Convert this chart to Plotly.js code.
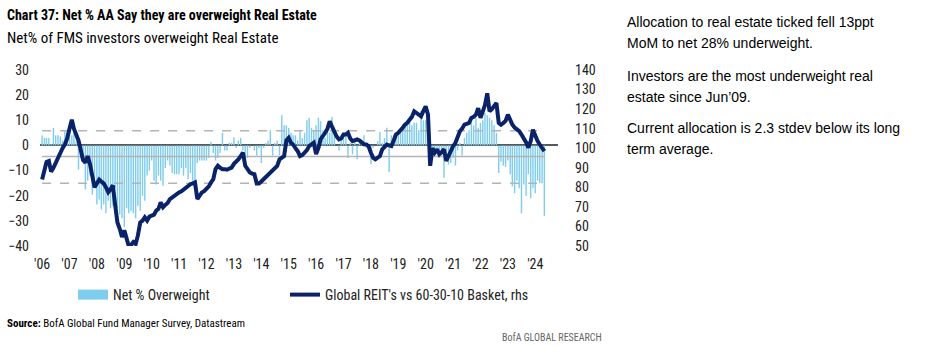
<!DOCTYPE html>
<html><head><meta charset="utf-8">
<script src="https://cdn.plot.ly/plotly-3.0.1.min.js"></script>
<style>html,body{margin:0;padding:0;background:#fff}#chart{width:933px;height:346px}</style>
</head><body><div id="chart"></div>
<script>
// ---- data (monthly, Jan 2006 .. May 2024) ----
const firstYear = 2006;
const netOverweight = [
  4, 3, 3, 3, 0.5, 7, 4, 4, 3.6, 2, 5.7, 5,                      // 2006
  7, 4, 5, 1.7, -9.6, -5, -3.6, -17.5, -14, -12, -19.5, -17,     // 2007
  -23.5, -21.5, -25.5, -23.5, -27, -22, -25, -24, -17, -25, -27.5, -29, // 2008
  -32.5, -25, -27, -26, -27, -29, -24, -26, -20, -22, -12, -10,  // 2009
  -6, -14, -15.5, -12, -14, -16, -9, -6, -8, -11, -11.5, -11.5,  // 2010
  -11.5, -9, -12, -9, -13.5, -11, -14, -14, -7, -6, -6, -6,      // 2011
  -6, -5, 1.5, -3, -6, -5, -3, 5, -2, -2, 1, 1,                  // 2012
  3.3, -1, 2, 3, -2, -5, -5, -1, 0, -2, -4, -1,                  // 2013
  -7, -1, 1, 2, 6, -4, 1, 2, -4, 12, 8, 8,                       // 2014
  7, 5, 4, 4, 2, 6, 3, 5, 10, 11, 7, 6,                          // 2015
  8, 11, 9.7, 6, 3, 8, 5, 11.4, 6, 0, -2, 3,                     // 2016
  5, 4, -5, 1, -3.5, 2, -5.5, 1, 2, 4, -1, -2,                   // 2017
  -7.5, -1, 0, 1.7, 5.3, 1, 3, 7, -10.6, 4, 4, 3,                // 2018
  4, 5, 7, 9, 8, 11.7, 8, 9, 9, 6, 13.7, 10,                     // 2019
  10, 9, -5, -5, -1, -2, -5, -4, -13, -5, -7.6, -7,              // 2020
  -5, -8, -2, 1, -4, 3, 5, 6, 9.5, 8, 11, 7,                     // 2021
  9, 10, 13, 12, 11, 10, 8, 5, -11, -6.5, -8, -8.5,              // 2022
  -6, -11.5, -16.3, -19, -14, -17, -27, -15.5, -20, -11.5, -21, -17, // 2023
  -19, -14, -15, -15, -28                                        // 2024
];
const reitVsBasket = [
  84, 89, 93, 93.5, 88, 90, 92.6, 95, 98.5, 100, 102, 105,       // 2006
  110, 114.6, 110, 107, 104, 99, 94, 92.6, 96, 92, 87, 80,       // 2007
  82, 84, 83, 82, 80, 77.5, 79, 81, 71, 62, 58.8, 54.6,          // 2008
  58, 53, 50, 50.5, 52, 51, 55.4, 62, 63, 64.7, 63, 65,          // 2009
  65.6, 66, 68, 69, 72.3, 69.8, 71, 72, 74, 75, 75.7, 76.5,      // 2010
  77.4, 78, 79, 80, 80.5, 81.6, 82, 82.5, 74, 76, 77.4, 78,      // 2011
  79.1, 80.5, 82.5, 84.2, 89.3, 91, 90, 89.3, 89.3, 89, 89.6, 90.1, // 2012
  92, 93, 94.3, 96, 97.7, 91, 89, 87.6, 87, 86.7, 82, 82,        // 2013
  83, 84.2, 85.5, 86.5, 87.6, 89.3, 90, 91, 94.3, 95, 96, 104,   // 2014
  105.3, 102.8, 101.9, 100, 98.5, 96, 96.5, 97.7, 99, 101.1, 102, 102.8, // 2015
  97, 100, 104.5, 106, 107.9, 110, 113.8, 111, 107.9, 106, 104.5, 105,   // 2016
  107, 107, 107.9, 105, 103.6, 104, 104.5, 104, 102.8, 102, 101.9, 101,  // 2017
  97.7, 95, 94.3, 95, 96, 99.4, 100.5, 101.9, 101.5, 101.1, 104, 107,    // 2018
  107.9, 109, 110.5, 112.1, 113, 114.6, 116, 118.9, 118, 117.2, 116.3, 119, // 2019
  121.4, 117.2, 91, 100, 97.7, 99.4, 96.9, 98, 99.4, 93.5, 96, 99,       // 2020
  101, 102.8, 106, 108.7, 110, 112.1, 112.5, 112.9, 115.5, 116, 117.2, 120.5, // 2021
  115.5, 118.9, 122, 128.1, 118.9, 120, 121.4, 123.1, 112.9, 112, 112.9, 114, // 2022
  117.2, 114, 112.1, 110.5, 109.5, 108.7, 107, 105.3, 103, 100.3, 103.6, 109.5, // 2023
  106, 103.6, 101.9, 100, 98.5                                   // 2024
];
const longTermAvg = -4.4;
const stdevBands = [5.8, -15.0];
const yearTickVals = [];
const yearTickText = ["'06","'07","'08","'09","'10","'11","'12","'13","'14","'15","'16","'17","'18","'19","'20","'21","'22","'23","'24"];
for (let i = 0; i < yearTickText.length; i++) yearTickVals.push((firstYear + i) + '-01-01');

const seriesNames = ['Net % Overweight', "Global REIT's vs 60-30-10 Basket, rhs"];
const rightText = [
  'Allocation to real estate ticked fell 13ppt',
  'MoM to net 28% underweight.',
  'Investors are the most underweight real',
  "estate since Jun\u201909.",
  'Current allocation is 2.3 stdev below its long',
  'term average.'
];

// ---- build dates ----
function monthDates(n) {
  const out = [];
  for (let i = 0; i < n; i++) {
    const y = firstYear + Math.floor(i / 12);
    const m = (i % 12) + 1;
    out.push(y + '-' + String(m).padStart(2, '0') + '-01');
  }
  return out;
}
const barDates = monthDates(netOverweight.length);
const lineDates = monthDates(reitVsBasket.length);
const firstDate = barDates[0], lastDate = barDates[barDates.length - 1];

const NARROW = '"Liberation Sans Narrow", "Arial Narrow", "Roboto Condensed", sans-serif';
const REG = '"Liberation Sans", Arial, sans-serif';
const BAR_COLOR = '#7fcdee', LINE_COLOR = '#0a2368';

// pixel helpers for plot-area-relative paper coordinates
const PL = 40, PR = 558, PT = 70, PB = 246;
const px = x => (x - PL) / (PR - PL);
const py = y => (PB - y) / (PB - PT);

const traces = [
  // legend entry for bars (wide swatch like the original)
  {type: 'scatter', mode: 'lines', x: [null], y: [null], name: seriesNames[0],
   line: {color: BAR_COLOR, width: 10}, hoverinfo: 'skip', legend: 'legend'},
  {type: 'bar', x: barDates, y: netOverweight, name: seriesNames[0], showlegend: false,
   marker: {color: BAR_COLOR, line: {width: 0}}, width: 19 * 86400000, yaxis: 'y'},
  {type: 'scatter', mode: 'lines', x: [firstDate, lastDate], y: [longTermAvg, longTermAvg],
   line: {color: '#b3b3b3', width: 1.5}, showlegend: false, hoverinfo: 'skip'},
  {type: 'scatter', mode: 'lines', x: [firstDate, lastDate], y: [stdevBands[0], stdevBands[0]],
   line: {color: '#b3b3b3', width: 1.5, dash: 'dash'}, showlegend: false, hoverinfo: 'skip'},
  {type: 'scatter', mode: 'lines', x: [firstDate, lastDate], y: [stdevBands[1], stdevBands[1]],
   line: {color: '#b3b3b3', width: 1.5, dash: 'dash'}, showlegend: false, hoverinfo: 'skip'},
  {type: 'scatter', mode: 'lines', x: lineDates, y: reitVsBasket, name: seriesNames[1],
   line: {color: LINE_COLOR, width: 4}, yaxis: 'y2', legend: 'legend2'}
];

const annotations = [
  {text: '<b>Chart 37: Net % AA Say they are overweight Real Estate</b>', x: px(5), y: py(15),
   font: {family: NARROW, size: 14, color: '#000'}},
  {text: 'Net% of FMS investors overweight Real Estate', x: px(5), y: py(38),
   font: {family: NARROW, size: 15, color: '#000'}},
  {text: '<b>Source:</b> BofA Global Fund Manager Survey, Datastream', x: px(5), y: py(323),
   font: {family: NARROW, size: 11, color: '#000'}},
  {text: 'BofA GLOBAL RESEARCH', x: px(500), y: py(337),
   font: {family: NARROW, size: 10, color: '#666'}}
];
const lineYs = [22, 43, 76, 97, 128, 149];
rightText.forEach((t, i) => annotations.push({text: t, x: px(625), y: py(lineYs[i]),
  font: {family: REG, size: 14, color: '#000'}}));
annotations.forEach(a => Object.assign(a, {xref: 'paper', yref: 'paper', xanchor: 'left',
  yanchor: 'middle', showarrow: false, align: 'left'}));

const legendStyle = {orientation: 'h', xanchor: 'left', y: py(295), yanchor: 'middle',
  font: {family: NARROW, size: 14, color: '#222'}, bgcolor: 'rgba(0,0,0,0)'};

const layout = {
  width: 933, height: 346, autosize: false,
  margin: {l: PL, r: 933 - PR, t: PT, b: 346 - PB, pad: 0},
  paper_bgcolor: '#fff', plot_bgcolor: '#fff',
  font: {family: NARROW, color: '#222'},
  showlegend: true,
  legend: Object.assign({x: px(73)}, legendStyle),
  legend2: Object.assign({x: px(285)}, legendStyle),
  bargap: 0.3,
  xaxis: {type: 'date', range: ['2005-12-04', '2024-10-30'], tickmode: 'array',
    tickvals: yearTickVals, ticktext: yearTickText, ticks: '', showgrid: false,
    showline: false, zeroline: false, tickfont: {family: NARROW, size: 14, color: '#222'},
    ticklabelstandoff: 8},
  yaxis: {range: [-40, 30], dtick: 10, tick0: 0, showgrid: false, zeroline: true,
    zerolinecolor: '#595959', zerolinewidth: 2, ticks: '', showline: false,
    tickfont: {family: NARROW, size: 14, color: '#222'}, ticklabelstandoff: 10},
  yaxis2: {overlaying: 'y', side: 'right', range: [50, 140], dtick: 10, tick0: 50,
    showgrid: false, zeroline: false, ticks: '', showline: false,
    tickfont: {family: NARROW, size: 14, color: '#222'}, ticklabelstandoff: 16},
  annotations: annotations
};

Plotly.newPlot('chart', traces, layout, {staticPlot: true, displayModeBar: false});
</script></body></html>
